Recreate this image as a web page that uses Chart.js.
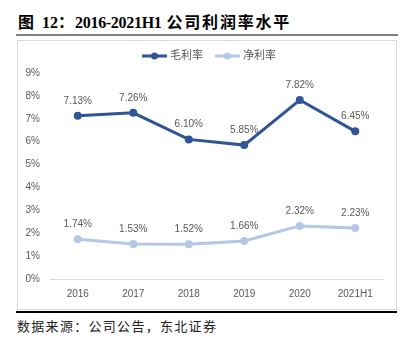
<!DOCTYPE html>
<html>
<head>
<meta charset="utf-8">
<script src="https://cdn.jsdelivr.net/npm/chart.js@4/dist/chart.umd.min.js"></script>
<style>
    html, body { margin: 0; padding: 0; background: #fff; }
    body { width: 404px; height: 344px; position: relative; overflow: hidden; }
    .title {
        position: absolute; left: 18px; top: 9px;
        font: bold 16px 'Liberation Serif', 'Noto Sans CJK SC', serif;
        color: #000; white-space: nowrap;
    }
    .title .num { letter-spacing: -0.3px; margin-left: 1px; }
    .title .cjk { letter-spacing: 1.8px; margin-left: 5px; }
    .title .fig { margin-left: 8px; }
    .rule-top { position: absolute; left: 16px; top: 34px; width: 382px; height: 2px; background: #808080; }
    .box { position: absolute; left: 17px; top: 40px; width: 378px; height: 268px; border: 1px solid #d9d9d9; }
    .box canvas { position: absolute; left: 0; top: 0; }
    .rule-bottom { position: absolute; left: 16px; top: 311px; width: 381px; height: 2px; background: #000; }
    .source {
        position: absolute; left: 17px; top: 316px;
        font: 13px 'Noto Sans CJK SC', sans-serif; color: #222; letter-spacing: 1.3px; white-space: nowrap;
    }
</style>
</head>
<body>
<div class="title">图<span class="fig">12：</span><span class="num">2016-2021H1</span><span class="cjk">公司利润率水平</span></div>
<div class="rule-top"></div>
<div class="box"><canvas id="chart" width="378" height="268"></canvas></div>
<div class="rule-bottom"></div>
<div class="source">数据来源：公司公告，东北证券</div>

<script>
// Values (percent).
const categories = ['2016', '2017', '2018', '2019', '2020', '2021H1'];
const grossMargin = [7.13, 7.26, 6.10, 5.85, 7.82, 6.45];
const netMargin = [1.74, 1.53, 1.52, 1.66, 2.32, 2.23];
const seriesNames = ['毛利率', '净利率'];
const seriesColors = ['#2f5597', '#b4c7e7'];

const TEXT_COLOR = '#595959';
const FONT_FAMILY = "'Liberation Sans', 'Noto Sans CJK SC', sans-serif";

// Value labels above every point ("7.13%").
const pointLabels = {
    id: 'pointLabels',
    afterDatasetsDraw(chart) {
        const ctx = chart.ctx;
        ctx.save();
        ctx.font = '10px ' + FONT_FAMILY;
        ctx.fillStyle = TEXT_COLOR;
        ctx.textAlign = 'center';
        ctx.textBaseline = 'middle';
        chart.data.datasets.forEach((ds, i) => {
            chart.getDatasetMeta(i).data.forEach((pt, j) => {
                ctx.fillText(ds.data[j].toFixed(2) + '%', pt.x, pt.y - 15);
            });
        });
        ctx.restore();
    }
};

// Legend drawn as "line + dot" markers like the office chart.
const lineLegend = {
    id: 'lineLegend',
    afterDraw(chart) {
        const ctx = chart.ctx;
        ctx.save();
        ctx.font = '11px ' + FONT_FAMILY;
        const lineW = 25, gap = 3, itemGap = 12;
        const widths = chart.data.datasets.map(ds => ctx.measureText(ds.label).width);
        const total = widths.reduce((a, w) => a + lineW + gap + w, 0) + itemGap * (widths.length - 1);
        let x = chart.width / 2 - total / 2 + 2;
        const y = 15;
        chart.data.datasets.forEach((ds, i) => {
            ctx.strokeStyle = ds.borderColor;
            ctx.lineWidth = 3;
            ctx.beginPath();
            ctx.moveTo(x, y);
            ctx.lineTo(x + lineW, y);
            ctx.stroke();
            ctx.fillStyle = ds.borderColor;
            ctx.beginPath();
            ctx.arc(x + lineW / 2, y, 3.5, 0, Math.PI * 2);
            ctx.fill();
            ctx.fillStyle = TEXT_COLOR;
            ctx.textAlign = 'left';
            ctx.textBaseline = 'middle';
            ctx.fillText(ds.label, x + lineW + gap, y);
            x += lineW + gap + widths[i] + itemGap;
        });
        ctx.restore();
    }
};

Chart.defaults.font.family = FONT_FAMILY;
Chart.defaults.color = TEXT_COLOR;

const makeSeries = (label, data, color) => ({
    label,
    data,
    borderColor: color,
    backgroundColor: color,
    borderWidth: 3,
    pointRadius: 4,
    pointHoverRadius: 4,
    pointBorderWidth: 0,
    tension: 0
});

new Chart(document.getElementById('chart'), {
    type: 'line',
    data: {
        labels: categories,
        datasets: [
            makeSeries(seriesNames[0], grossMargin, seriesColors[0]),
            makeSeries(seriesNames[1], netMargin, seriesColors[1])
        ]
    },
    options: {
        responsive: false,
        animation: false,
        layout: { padding: { top: 32, right: 13, left: 0, bottom: 0 } },
        plugins: { legend: { display: false }, tooltip: { enabled: false } },
        scales: {
            x: {
                offset: true,
                grid: { display: false, drawTicks: false, tickLength: 0 },
                border: { display: true, color: '#d9d9d9', width: 1 },
                ticks: { font: { size: 10 }, color: TEXT_COLOR, padding: 9 },
                afterFit(axis) { axis.height = 30; }
            },
            y: {
                min: 0,
                max: 9,
                grid: { display: false, drawTicks: false, tickLength: 0 },
                border: { display: false },
                ticks: {
                    stepSize: 1,
                    padding: 10,
                    font: { size: 10 },
                    color: TEXT_COLOR,
                    callback: v => v + '%'
                },
                afterFit(axis) { axis.width = 32; }
            }
        }
    },
    plugins: [pointLabels, lineLegend]
});
</script>
</body>
</html>
